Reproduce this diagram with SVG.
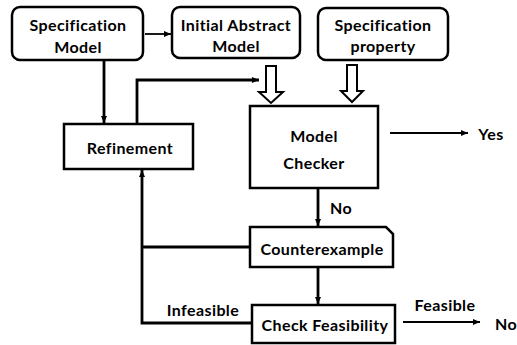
<svg xmlns="http://www.w3.org/2000/svg" width="517" height="345" viewBox="0 0 517 345">
<defs>
<marker id="ah" markerWidth="8" markerHeight="8" refX="7" refY="4" orient="auto" markerUnits="userSpaceOnUse">
<path d="M0,1 L7,4 L0,7 Z" fill="#000"/>
</marker>
<style>
.box{fill:#fff;stroke:#000;stroke-width:2.5}
.t{font-family:Lato,"Liberation Sans",sans-serif;font-weight:bold;font-size:16px;letter-spacing:0.4px;fill:#000;text-anchor:middle;dominant-baseline:central}
.ln{fill:none;stroke:#000;stroke-width:2.8}
.th{fill:none;stroke:#000;stroke-width:1.8}
.hol{fill:#fff;stroke:#000;stroke-width:2}
</style>
</defs>
<rect width="517" height="345" fill="#fff"/>
<g id="connectors">
<line class="th" x1="145" y1="34" x2="171" y2="34" marker-end="url(#ah)"/>
<line class="ln" x1="104" y1="60" x2="104" y2="123" marker-end="url(#ah)"/>
<polyline class="ln" points="137,124 137,80 259,80" marker-end="url(#ah)"/>
<path class="hol" d="M266,66 L276,66 L276,92 L283,92 L271,103 L259,92 L266,92 Z"/>
<path class="hol" d="M347,65 L357,65 L357,91 L363,91 L352,102 L341,91 L347,91 Z"/>
<line class="th" x1="390" y1="133" x2="468" y2="133" marker-end="url(#ah)"/>
<line class="ln" x1="318" y1="188" x2="318" y2="226" marker-end="url(#ah)"/>
<line class="ln" x1="318" y1="267" x2="318" y2="304" marker-end="url(#ah)"/>
<line class="th" x1="403" y1="322" x2="480" y2="322" marker-end="url(#ah)"/>
<polyline class="ln" points="252,323 142,323 142,170" marker-end="url(#ah)"/>
<line class="ln" x1="250" y1="247" x2="142" y2="247"/>
</g>
<g id="spec-model">
<rect class="box" x="12" y="7" width="131" height="53" rx="8"/>
<text class="t" x="78" y="24">Specification</text>
<text class="t" x="78" y="46">Model</text>
</g>
<g id="initial-abstract-model">
<rect class="box" x="172" y="7" width="128" height="51" rx="8"/>
<text class="t" x="236" y="24">Initial Abstract</text>
<text class="t" x="236" y="45">Model</text>
</g>
<g id="spec-property">
<rect class="box" x="318" y="8" width="130" height="52" rx="8"/>
<text class="t" x="383" y="24">Specification</text>
<text class="t" x="383" y="45">property</text>
</g>
<g id="refinement">
<rect class="box" x="64" y="124" width="129" height="45"/>
<text class="t" x="130" y="147">Refinement</text>
</g>
<g id="model-checker">
<rect class="box" x="250" y="106" width="128" height="82"/>
<text class="t" x="314" y="135">Model</text>
<text class="t" x="314" y="162">Checker</text>
</g>
<g id="yes">
<text class="t" x="491" y="133">Yes</text>
</g>
<g id="counterexample">
<path class="box" d="M250,227 L386,227 L393,234 L393,267 L250,267 Z"/>
<text class="t" x="322" y="248">Counterexample</text>
</g>
<g id="check-feasibility">
<rect class="box" x="252" y="305" width="143" height="38"/>
<text class="t" x="325" y="324">Check Feasibility</text>
</g>
<g id="labels">
<text class="t" x="341" y="207">No</text>
<text class="t" x="203" y="309">Infeasible</text>
<text class="t" x="445" y="304">Feasible</text>
<text class="t" x="506" y="323">No</text>
</g>
</svg>
